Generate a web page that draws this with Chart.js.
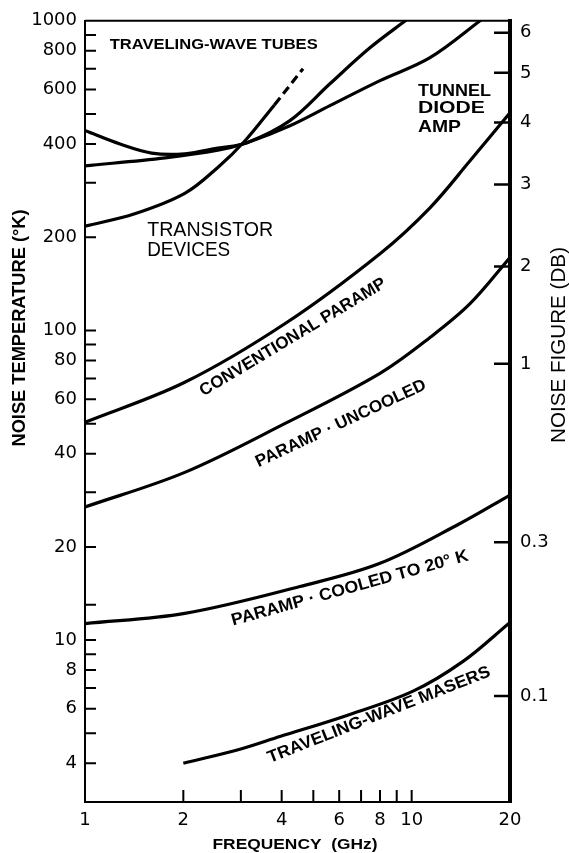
<!DOCTYPE html>
<html>
<head>
<meta charset="utf-8">
<title>Noise temperature vs frequency</title>
<script src="https://cdn.jsdelivr.net/npm/chart.js@4.4.1/dist/chart.umd.min.js"></script>
<style>
  html, body { margin: 0; padding: 0; background: #fff; }
  #wrap { width: 569px; height: 853px; }
</style>
</head>
<body>
<div id="wrap"><canvas id="chart" width="569" height="853"></canvas></div>
<script>
  // axis ticks
  const freqLabels = [1, 2, 4, 6, 8, 10, 20];
  const freqMarks = [2, 3, 4, 5, 6, 7, 8, 9, 10];
  const tempLabels = [4, 6, 8, 10, 20, 40, 60, 80, 100, 200, 400, 600, 800, 1000];
  const tempMarks = [4, 5, 6, 7, 8, 9, 10, 13, 20, 30, 40, 50, 60, 70, 80, 90, 100, 200, 300, 400, 500, 600, 700, 800, 900];
  // noise figure scale (dB) and where each mark sits on the temperature scale (K), as drawn
  const nfLabels = [0.1, 0.3, 1, 2, 3, 4, 5, 6];
  const nfTemps = [6.6, 20.7, 78, 161, 296, 469, 679, 915];

  // curves, frequency (GHz) and noise temperature (K)
  const twtFreq = [1, 1.28, 1.6, 2.02, 2.55, 3.13, 4.24, 5.62, 7.45, 9.74];
  const twtTemp = [442, 400, 374, 372, 388, 404, 476, 626, 818, 1015];

  const tunnelFreq = [1, 1.76, 2.55, 3.13, 4.24, 5.62, 8.0, 11.38, 16.5];
  const tunnelTemp = [340, 361, 382, 404, 458, 532, 641, 760, 1015];

  const transFreq = [1, 1.42, 2.02, 2.55, 3.09, 3.8];
  const transTemp = [217, 238, 277, 336, 410, 535];
  const transDashFreq = [3.8, 4.65];
  const transDashTemp = [535, 700];

  const convFreq = [1, 2.02, 4.1, 8.0, 11.38, 15.09, 20];
  const convTemp = [50.5, 68.0, 105.3, 177, 249, 353, 505];

  const uncooledFreq = [1, 2.02, 4.1, 8.0, 11.38, 15.09, 20];
  const uncooledTemp = [26.9, 34.8, 50.1, 72.7, 94.9, 122, 172];

  const cooledFreq = [1, 2.02, 4.55, 8.0, 14.06, 20];
  const cooledTemp = [11.3, 12.2, 14.9, 17.7, 23.8, 29.4];

  const maserFreq = [2, 3, 3.95, 6.3, 10.1, 14.4, 20];
  const maserTemp = [4.0, 4.45, 4.88, 5.7, 6.84, 8.55, 11.4];

  const zip = (xs, ys) => xs.map((x, i) => ({ x: x, y: ys[i] }));

  function curve(xs, ys, extra) {
    return Object.assign({
      data: zip(xs, ys),
      borderColor: '#000',
      borderWidth: 3.2,
      pointRadius: 0,
      fill: false,
      tension: 0.35
    }, extra || {});
  }

  const BOLD = 'bold 17px "Liberation Sans", Arial, sans-serif';

  // labels anchored in data coordinates
  const notes = [
    { text: 'TRAVELING-WAVE TUBES', f: 1.19, t: 837, align: 'left', width: 208, font: 'bold 15px "Liberation Sans", Arial, sans-serif' },
    { text: 'TUNNEL', f: 10.45, t: 594, align: 'left', width: 73, font: BOLD },
    { text: 'DIODE', f: 10.45, t: 520, align: 'left', width: 67, font: BOLD },
    { text: 'AMP', f: 10.45, t: 452, align: 'left', width: 43, font: BOLD },
    { text: 'TRANSISTOR', f: 1.55, t: 210, align: 'left', width: 126, font: '20px "Liberation Sans", Arial, sans-serif' },
    { text: 'DEVICES', f: 1.55, t: 181, align: 'left', width: 83, font: '20px "Liberation Sans", Arial, sans-serif' },
    { text: 'CONVENTIONAL PARAMP', f: 4.33, t: 95, angle: -31, width: 214, font: BOLD },
    { text: 'PARAMP · UNCOOLED', f: 6.07, t: 50, angle: -25, width: 186, font: BOLD },
    { text: 'PARAMP · COOLED TO 20° K', f: 6.47, t: 14.7, angle: -15.5, width: 245, font: BOLD },
    { text: 'TRAVELING-WAVE MASERS', f: 7.94, t: 5.73, angle: -21.5, width: 238, font: BOLD }
  ];

  function fitText(ctx, text, x, y, opts) {
    ctx.save();
    ctx.translate(x, y);
    ctx.rotate((opts.angle || 0) * Math.PI / 180);
    ctx.font = opts.font;
    const w = ctx.measureText(text).width;
    if (opts.width) ctx.scale(opts.width / w, 1);
    ctx.textAlign = opts.align || 'center';
    ctx.textBaseline = 'middle';
    ctx.fillStyle = '#000';
    ctx.fillText(text, 0, 0);
    ctx.restore();
  }

  const decorations = {
    id: 'decorations',
    afterDraw(chart) {
      const ctx = chart.ctx;
      const area = chart.chartArea;
      const xs = chart.scales.x, ys = chart.scales.y, ys2 = chart.scales.y2;

      ctx.save();
      ctx.strokeStyle = '#000';
      ctx.lineCap = 'butt';

      // top frame line
      ctx.lineWidth = 2;
      ctx.beginPath();
      ctx.moveTo(area.left, area.top);
      ctx.lineTo(area.right, area.top);
      ctx.stroke();

      // inward tick marks
      ctx.beginPath();
      freqMarks.forEach(v => {
        const px = xs.getPixelForValue(v);
        ctx.moveTo(px, area.bottom);
        ctx.lineTo(px, area.bottom - 12);
      });
      tempMarks.forEach(v => {
        const py = ys.getPixelForValue(v);
        ctx.moveTo(area.left, py);
        ctx.lineTo(area.left + 11, py);
      });
      ctx.stroke();

      ctx.lineWidth = 2.5;
      ctx.beginPath();
      ys2.ticks.forEach(t => {
        const py = ys2.getPixelForValue(t.value);
        ctx.moveTo(area.right, py);
        ctx.lineTo(area.right - 16, py);
      });
      ctx.stroke();
      ctx.restore();

      // curve labels
      notes.forEach(n => {
        fitText(ctx, n.text, xs.getPixelForValue(n.f), ys.getPixelForValue(n.t), n);
      });

      // axis titles
      fitText(ctx, 'NOISE TEMPERATURE (°K)', 20, 328,
        { angle: -90, width: 237, font: 'bold 18px "Liberation Sans", Arial, sans-serif' });
      fitText(ctx, 'NOISE FIGURE (DB)', 559, 345,
        { angle: -90, width: 196, font: '20px "Liberation Sans", Arial, sans-serif' });
      fitText(ctx, 'FREQUENCY  (GHz)', 295, 845,
        { width: 165, font: 'bold 14px "Liberation Sans", Arial, sans-serif' });
    }
  };

  const tickFont = { family: '"DejaVu Sans", sans-serif', size: 18 };

  new Chart(document.getElementById('chart'), {
    type: 'line',
    data: {
      datasets: [
        curve(twtFreq, twtTemp),
        curve(tunnelFreq, tunnelTemp),
        curve(transFreq, transTemp),
        curve(transDashFreq, transDashTemp, { borderDash: [9, 5] }),
        curve(convFreq, convTemp),
        curve(uncooledFreq, uncooledTemp),
        curve(cooledFreq, cooledTemp),
        curve(maserFreq, maserTemp)
      ]
    },
    options: {
      responsive: false,
      animation: false,
      layout: { padding: { top: 19, left: 0, right: 0, bottom: 0 } },
      plugins: {
        legend: { display: false },
        tooltip: { enabled: false }
      },
      scales: {
        x: {
          type: 'logarithmic',
          position: 'bottom',
          min: 1,
          max: 20,
          afterFit(scale) { scale.height = 51; },
          afterBuildTicks(scale) { scale.ticks = freqLabels.map(v => ({ value: v })); },
          grid: { drawOnChartArea: false, drawTicks: false },
          border: { color: '#000', width: 2 },
          ticks: {
            color: '#000',
            font: tickFont,
            padding: 8,
            maxRotation: 0,
            autoSkip: false,
            callback: v => String(v)
          }
        },
        y: {
          type: 'logarithmic',
          position: 'left',
          min: 3,
          max: 1000,
          afterFit(scale) { scale.width = 85; },
          afterBuildTicks(scale) { scale.ticks = tempMarks.concat([1000]).map(v => ({ value: v })); },
          grid: { drawOnChartArea: false, drawTicks: false },
          border: { color: '#000', width: 2 },
          ticks: {
            color: '#000',
            font: tickFont,
            padding: 8,
            autoSkip: false,
            callback: v => tempLabels.includes(v) ? String(v) : ''
          }
        },
        y2: {
          type: 'logarithmic',
          position: 'right',
          min: 3,
          max: 1000,
          afterFit(scale) { scale.width = 59; },
          afterBuildTicks(scale) { scale.ticks = nfTemps.map(t => ({ value: t })); },
          grid: { drawOnChartArea: false, drawTicks: false },
          border: { color: '#000', width: 4 },
          ticks: {
            color: '#000',
            font: tickFont,
            padding: 10,
            autoSkip: false,
            callback: (v, i) => String(nfLabels[i])
          }
        }
      }
    },
    plugins: [decorations]
  });
</script>
</body>
</html>
